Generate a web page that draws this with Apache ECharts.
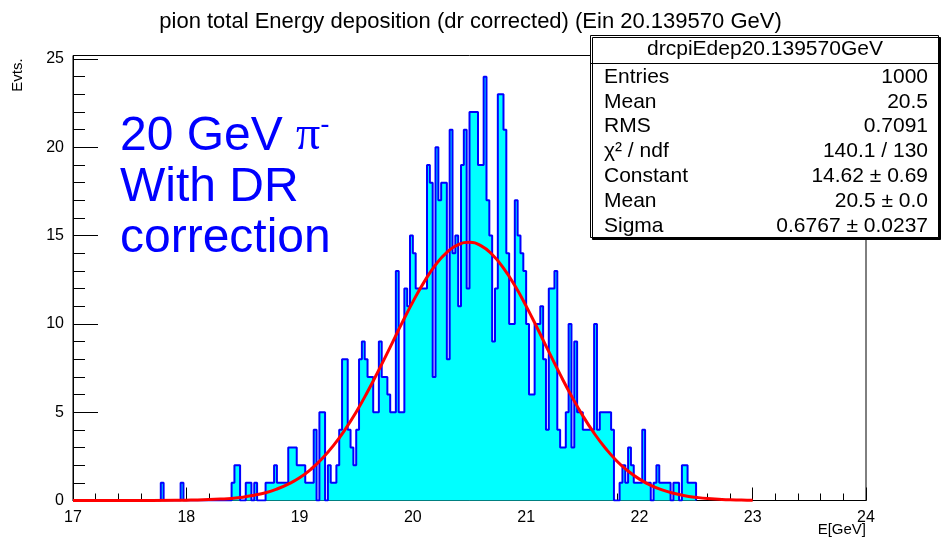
<!DOCTYPE html>
<html>
<head>
<meta charset="utf-8">
<script src="https://cdn.jsdelivr.net/npm/echarts@6/dist/echarts.min.js"></script>
<style>
html, body { margin: 0; padding: 0; background: #fff; }
#chart { width: 941px; height: 541px; }
</style>
</head>
<body>
<div id="chart"></div>
<script>
// histogram: 0.025 GeV bins, counts start at binStart
var xMin = 17, xMax = 24;
var yMax = 25.2;
var binStart = 17.75;
var binWidth = 0.025;
var counts = [
    0, 1, 0, 0, 0, 0, 0, 0, 1, 0,            // 17.750 - 17.975
    0, 0, 0, 0, 0, 0, 0, 0, 0, 0,            // 18.000 - 18.225
    0, 0, 0, 0, 0, 0, 1, 2, 2, 0,            // 18.250 - 18.475
    0, 1, 1, 0, 1, 0, 0, 0, 1, 1,            // 18.500 - 18.725
    1, 2, 1, 1, 1, 1, 3, 3, 3, 2,            // 18.750 - 18.975
    2, 2, 1, 1, 1, 4, 0, 5, 5, 0,            // 19.000 - 19.225
    2, 1, 1, 2, 4, 8, 8, 4, 3, 2,            // 19.250 - 19.475
    4, 8, 9, 8, 7, 7, 5, 5, 9, 7,            // 19.500 - 19.725
    7, 6, 5, 5, 13, 5, 5, 12, 11, 15,        // 19.750 - 19.975
    14, 12, 12, 12, 12, 19, 18, 7, 20, 17,   // 20.000 - 20.225
    18, 18, 8, 21, 14, 15, 11, 19, 21, 12,   // 20.250 - 20.475
    22, 22, 22, 19, 19, 24, 17, 15, 9, 12,   // 20.500 - 20.725
    23, 23, 21, 14, 10, 10, 17, 15, 14, 13,  // 20.750 - 20.975
    10, 6, 6, 10, 10, 11, 8, 4, 12, 12,      // 21.000 - 21.225
    13, 4, 3, 3, 5, 10, 3, 9, 5, 5,          // 21.250 - 21.475
    4, 4, 4, 4, 10, 4, 5, 5, 5, 5,           // 21.500 - 21.725
    4, 0, 0, 1, 2, 1, 3, 2, 1, 1,            // 21.750 - 21.975
    1, 4, 1, 1, 0, 1, 2, 1, 1, 1,            // 22.000 - 22.225
    1, 0, 1, 1, 0, 2, 2, 1, 1, 1             // 22.250 - 22.475
];

// gaussian fit curve
var fitE = [17.0, 17.5, 17.9, 18.0, 18.1, 18.2, 18.3, 18.4, 18.5, 18.6, 18.7, 18.8, 18.9,
    19.0, 19.1, 19.2, 19.3, 19.4, 19.5, 19.6, 19.7, 19.8, 19.9,
    20.0, 20.1, 20.2, 20.3, 20.4, 20.5, 20.6, 20.7, 20.8, 20.9,
    21.0, 21.1, 21.2, 21.3, 21.4, 21.5, 21.6, 21.7, 21.8, 21.9,
    22.0, 22.1, 22.2, 22.3, 22.4, 22.5, 22.6, 22.7, 22.8, 22.9, 23.0];
var fitY = [0, 0, 0.01, 0.02, 0.03, 0.05, 0.08, 0.12, 0.19, 0.30, 0.44, 0.65, 0.93,
    1.29, 1.77, 2.38, 3.12, 4.00, 5.01, 6.16, 7.40, 8.69, 10.00,
    11.25, 12.38, 13.34, 14.05, 14.49, 14.62, 14.43, 13.93, 13.16, 12.17,
    11.01, 9.74, 8.43, 7.14, 5.92, 4.80, 3.81, 2.96, 2.24, 1.67,
    1.21, 0.86, 0.60, 0.41, 0.27, 0.18, 0.11, 0.07, 0.04, 0.03, 0.01];

var titleText = 'pion total Energy deposition (dr corrected) (Ein 20.139570 GeV)';
var statTitle = 'drcpiEdep20.139570GeV';
var statLabels = ['Entries', 'Mean', 'RMS', 'χ² / ndf', 'Constant', 'Mean', 'Sigma'];
var statValues = ['1000', '20.5', '0.7091', '140.1 / 130', '14.62 ± 0.69', '20.5 ± 0.0', '0.6767 ± 0.0237'];

var dom = document.getElementById('chart');
var myChart = echarts.init(dom);

// step outline over the filled bins only
var histData = [];
for (var i = 0; i < counts.length; i++) {
    histData.push([+(binStart + i * binWidth).toFixed(4), counts[i]]);
}
histData.push([+(binStart + counts.length * binWidth).toFixed(4), 0]);

var fitData = fitE.map(function (e, i) { return [e, fitY[i]]; });

var FONT = 'Liberation Sans';

function txt(x, y, text, size, align) {
    return {
        type: 'text', z: 100,
        style: {
            text: text, x: x, y: y, fill: '#000',
            fontSize: size, fontFamily: FONT,
            align: align, textAlign: align,
            verticalAlign: 'middle', textVerticalAlign: 'middle'
        }
    };
}

var graphics = [];
// stats box
graphics.push({
    type: 'rect', z: 90,
    shape: { x: 590.5, y: 35.5, width: 348, height: 202 },
    style: { fill: '#fff', stroke: '#000', lineWidth: 1, shadowColor: '#000', shadowOffsetX: 2, shadowOffsetY: 2, shadowBlur: 0 }
});
graphics.push({
    type: 'line', z: 95,
    shape: { x1: 590.5, y1: 63.5, x2: 938.5, y2: 63.5 },
    style: { stroke: '#000', lineWidth: 1 }
});
graphics.push(txt(765, 49, statTitle, 21, 'center'));
for (var r = 0; r < statLabels.length; r++) {
    graphics.push(txt(604, 77 + r * 24.8, statLabels[r], 21, 'left'));
    graphics.push(txt(928, 77 + r * 24.8, statValues[r], 21, 'right'));
}
// axis titles
var ytitle = txt(0, 0, 'Evts.', 15, 'center');
ytitle.x = 18;
ytitle.y = 75;
ytitle.rotation = Math.PI / 2;
graphics.push(ytitle);
graphics.push(txt(866, 530, 'E[GeV]', 15, 'right'));
// blue annotation
graphics.push({
    type: 'text', z: 100,
    style: {
        x: 120, y: 111,
        text: '{n|20 GeV }{p|π}{s|-}\n{n|With DR}\n{n|correction}',
        fill: '#0000ff',
        rich: {
            n: { fontSize: 48, fontFamily: FONT, fill: '#0000ff', lineHeight: 51 },
            p: { fontSize: 48, fontFamily: 'Liberation Serif', fill: '#0000ff', lineHeight: 51 },
            s: { fontSize: 28, fontFamily: FONT, fill: '#0000ff', verticalAlign: 'top', lineHeight: 51 }
        }
    }
});

option = {
    animation: false,
    backgroundColor: '#fff',
    title: {
        text: titleText,
        left: 'center',
        top: 6,
        textStyle: { fontSize: 22, fontWeight: 'normal', fontFamily: FONT, color: '#000' }
    },
    grid: {
        left: 73,
        right: 75,
        top: 55.5,
        bottom: 40.5,
        show: true,
        borderColor: '#000',
        borderWidth: 1,
        containLabel: false,
        outerBoundsMode: 'none'
    },
    xAxis: {
        type: 'value',
        min: xMin,
        max: xMax,
        interval: 1,
        axisLine: { onZero: false, lineStyle: { color: '#000', width: 1 } },
        axisTick: { inside: true, length: 13, lineStyle: { color: '#000' } },
        minorTick: { show: true, splitNumber: 5, length: 7, lineStyle: { color: '#000' } },
        splitLine: { show: false },
        axisLabel: { color: '#000', fontSize: 16, fontFamily: FONT, margin: 9 }
    },
    yAxis: {
        type: 'value',
        min: 0,
        max: yMax,
        interval: 5,
        axisLine: { show: true, lineStyle: { color: '#000', width: 1 } },
        axisTick: { inside: true, length: 25, lineStyle: { color: '#000' } },
        minorTick: { show: true, splitNumber: 5, length: 12, lineStyle: { color: '#000' } },
        splitLine: { show: false },
        axisLabel: {
            color: '#000', fontSize: 16, fontFamily: FONT, margin: 9,
            formatter: function (v) { return v % 5 === 0 ? String(v) : ''; }
        }
    },
    series: [{
        name: 'hist',
        type: 'line',
        step: 'end',
        symbol: 'none',
        data: histData,
        lineStyle: { color: '#0000ff', width: 2 },
        itemStyle: { color: '#0000ff' },
        areaStyle: { color: '#00ffff', opacity: 1 },
        z: 2
    }, {
        name: 'fit',
        type: 'line',
        smooth: true,
        symbol: 'none',
        data: fitData,
        lineStyle: { color: '#ff0000', width: 3 },
        itemStyle: { color: '#ff0000' },
        z: 3
    }],
    graphic: graphics
};

if (option && typeof option === 'object') {
    myChart.setOption(option, true);
}

window.onresize = function () {
    myChart.resize();
};
</script>
</body>
</html>
